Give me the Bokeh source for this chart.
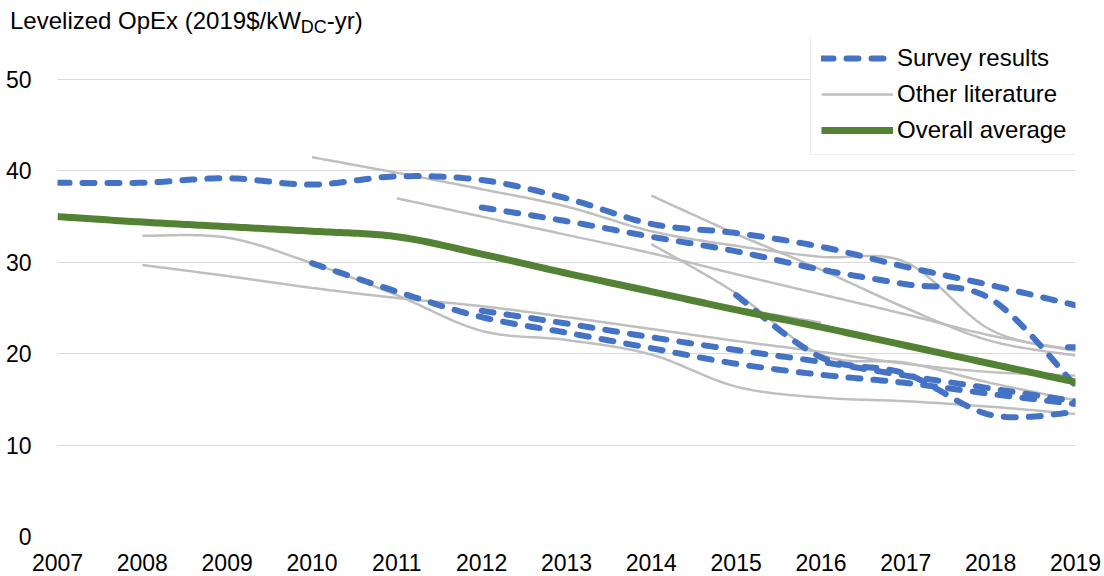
import numpy as np
from bokeh.plotting import figure
from bokeh.layouts import column
from bokeh.models import Range1d, Legend, LegendItem, FixedTicker, Div
from bokeh.embed import file_html
from bokeh.resources import INLINE

# ---------------- data ----------------
x_ticks = list(range(2007, 2020))
y_ticks = [0, 10, 20, 30, 40, 50]

# Survey results (blue dashed)
survey_a_years = list(range(2007, 2020))
survey_a = [38.7, 38.7, 39.2, 38.5, 39.4, 39.0, 37.0, 34.2, 33.2, 31.7, 29.5, 27.5, 25.3]
survey_b_years = list(range(2012, 2020))
survey_b = [36.0, 34.5, 32.8, 31.2, 29.2, 27.6, 26.0, 16.5]
survey_c_years = list(range(2010, 2020))
survey_c = [29.9, 26.8, 24.0, 22.3, 20.6, 18.9, 17.7, 16.8, 15.6, 14.5]
survey_d_years = list(range(2012, 2020))
survey_d = [24.7, 23.3, 21.8, 20.4, 19.1, 17.6, 16.2, 14.8]
survey_e_years = list(range(2015, 2020))
survey_e = [26.4, 19.6, 17.8, 13.3, 13.6]
survey_f_years = [2019]
survey_f = [20.7]

# Other literature (grey)
lit_a_years = list(range(2010, 2020))
lit_a = [41.5, 39.8, 38.0, 36.1, 33.4, 31.8, 30.6, 30.0, 22.6, 20.3]
lit_b_years = list(range(2011, 2020))
lit_b = [37.0, 35.0, 33.0, 31.0, 28.7, 26.5, 24.3, 22.0, 20.4]
lit_c_years = list(range(2014, 2020))
lit_c = [37.3, 33.1, 29.2, 25.0, 21.4, 19.8]
lit_d_years = list(range(2008, 2020))
lit_d = [32.9, 32.7, 29.9, 26.4, 22.5, 21.5, 19.9, 16.4, 15.2, 14.8, 14.2, 13.4]
lit_e_years = list(range(2008, 2020))
lit_e = [29.7, 28.5, 27.2, 26.1, 25.2, 24.0, 22.7, 21.4, 20.2, 18.9, 18.0, 17.6]
lit_f_years = list(range(2014, 2020))
lit_f = [32.0, 26.6, 19.9, 19.0, 16.8, 14.9]
lit_g_years = [2014, 2015, 2016]
lit_g = [26.9, 25.0, 23.4]

# Overall average (green)
avg_years = list(range(2007, 2020))
avg = [35.0, 34.4, 33.9, 33.4, 32.8, 30.9, 28.8, 26.8, 24.8, 22.9, 20.9, 18.9, 16.9]

# chart title pieces (main text, subscript, tail)
title_main = "Levelized OpEx (2019$/kW"
title_sub = "DC"
title_tail = "-yr)"

BLUE = "#4472C4"
GREY = "#BFBFBF"
GREEN = "#548235"
FONT = "Liberation Sans"


def smooth(xs, ys, n=24):
    """Excel-style smoothed line (Catmull-Rom Bezier) through the data points."""
    xs = np.asarray(xs, float)
    ys = np.asarray(ys, float)
    if len(xs) < 3:
        return xs, ys
    px = np.concatenate([[xs[0]], xs, [xs[-1]]])
    py = np.concatenate([[ys[0]], ys, [ys[-1]]])
    out_x, out_y = [xs[0]], [ys[0]]
    t = np.linspace(0, 1, n + 1)[1:]
    for i in range(len(xs) - 1):
        x0, x1, x2, x3 = px[i:i + 4]
        y0, y1, y2, y3 = py[i:i + 4]
        c1x, c1y = x1 + (x2 - x0) / 6, y1 + (y2 - y0) / 6
        c2x, c2y = x2 - (x3 - x1) / 6, y2 - (y3 - y1) / 6
        b0 = (1 - t) ** 3
        b1 = 3 * (1 - t) ** 2 * t
        b2 = 3 * (1 - t) * t ** 2
        b3 = t ** 3
        out_x.extend(b0 * x1 + b1 * c1x + b2 * c2x + b3 * x2)
        out_y.extend(b0 * y1 + b1 * c1y + b2 * c2y + b3 * y2)
    return np.array(out_x), np.array(out_y)


TITLE_H = 37
# the frame starts right under the title strip so the legend stays inside it;
# the y range is extended above 50 so that 0..50 keeps the reference spacing
p = figure(width=1104, height=576 - TITLE_H,
           x_range=Range1d(2007, 2019), y_range=Range1d(0, 50 + (79 - TITLE_H) * 50 / 457),
           output_backend="svg", toolbar_location=None,
           min_border_left=57, min_border_right=29,
           min_border_top=0, min_border_bottom=40)
p.outline_line_color = None
p.background_fill_color = "white"
p.border_fill_color = "white"

p.xgrid.grid_line_color = None
p.ygrid.grid_line_color = "#D9D9D9"
p.ygrid.grid_line_width = 1

p.xaxis.ticker = FixedTicker(ticks=x_ticks)
p.yaxis.ticker = FixedTicker(ticks=y_ticks)
for ax in (p.xaxis, p.yaxis):
    ax.axis_line_color = None
    ax.major_tick_line_color = None
    ax.minor_tick_line_color = None
    ax.major_label_text_font = FONT
    ax.major_label_text_font_size = "23px"
    ax.major_label_text_color = "#000000"
p.xaxis.major_label_standoff = 11
p.yaxis.major_label_standoff = 20

# grey literature lines
lit_r = None
for yrs, vals in [(lit_a_years, lit_a), (lit_b_years, lit_b), (lit_c_years, lit_c),
                  (lit_d_years, lit_d), (lit_e_years, lit_e), (lit_f_years, lit_f),
                  (lit_g_years, lit_g)]:
    sx, sy = smooth(yrs, vals)
    r = p.line(sx, sy, line_color=GREY, line_width=2.5)
    if lit_r is None:
        lit_r = r

# blue survey lines
sur_r = None
for yrs, vals in [(survey_a_years, survey_a), (survey_b_years, survey_b),
                  (survey_c_years, survey_c), (survey_d_years, survey_d),
                  (survey_e_years, survey_e)]:
    sx, sy = smooth(yrs, vals)
    r = p.line(sx, sy, line_color=BLUE, line_width=6, line_dash="12 13",
               line_cap="round", line_join="round")
    if sur_r is None:
        sur_r = r
p.scatter(survey_f_years, survey_f, marker="dash", size=15, line_color=BLUE,
          line_width=6, line_cap="round")

# green overall average
sx, sy = smooth(avg_years, avg)
avg_r = p.line(sx, sy, line_color=GREEN, line_width=7, line_join="round")

legend = Legend(items=[LegendItem(label="Survey results", renderers=[sur_r]),
                       LegendItem(label="Other literature", renderers=[lit_r]),
                       LegendItem(label="Overall average", renderers=[avg_r])],
                location=(753, 381))
legend.label_text_font = FONT
legend.label_text_font_size = "24px"
legend.label_text_color = "#000000"
legend.glyph_width = 72
legend.glyph_height = 20
legend.label_height = 20
legend.label_standoff = 4
legend.spacing = 8
legend.padding = 10
legend.margin = 0
legend.border_line_color = "#D9D9D9"
legend.border_line_width = 1
legend.background_fill_color = "white"
legend.background_fill_alpha = 1
p.add_layout(legend, "center")

title_html = (
    '<div style="font-family:\'Liberation Sans\',Arial,sans-serif;font-size:24px;'
    'color:#000000;line-height:26px;padding:8px 0 0 10px;white-space:nowrap;">'
    f'{title_main}<span style="font-size:18px;position:relative;top:4px;">{title_sub}</span>'
    f'{title_tail}</div>'
)
title_div = Div(text=title_html, width=1104, height=TITLE_H, margin=(0, 0, 0, 0))

layout = column(title_div, p, spacing=0)

open("out.html", "w").write(file_html(layout, INLINE))
